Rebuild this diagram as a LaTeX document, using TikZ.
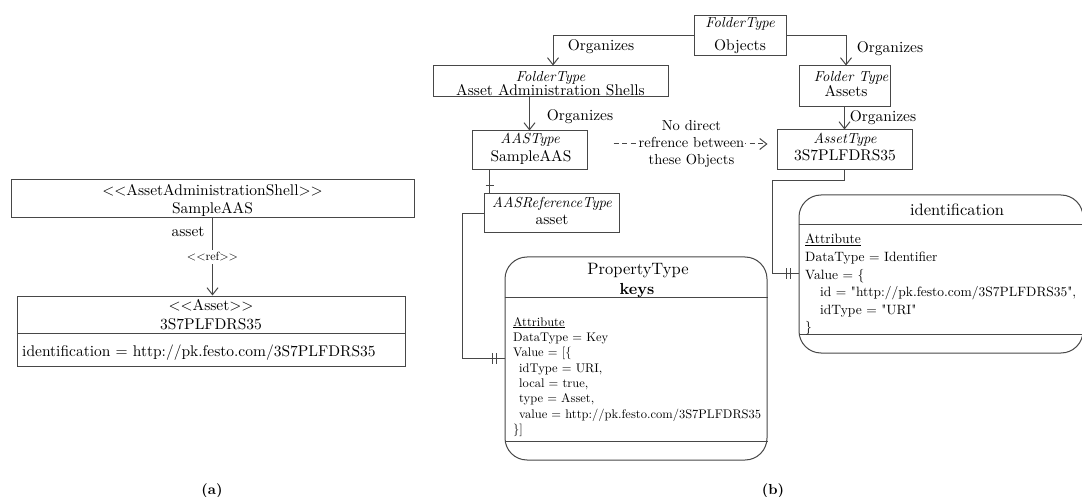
\documentclass[tikz,border=0pt]{standalone}
\usepackage{fontspec}
% Latin Modern without the TeX input mapping, so that << and " stay as typed
\setmainfont{lmroman10}[Extension=.otf, UprightFont=*-regular, ItalicFont=*-italic,
  BoldFont=*-bold, BoldItalicFont=*-bolditalic, Ligatures=TeXOff]
\usetikzlibrary{arrows.meta,calc}
\begin{document}
\begin{tikzpicture}[x=1pt,y=-1pt,
  line/.style={draw=black!72, line width=1pt},
  box/.style={line, rectangle, inner sep=0pt},
  rbox/.style={line, rectangle, rounded corners=22pt, inner sep=0pt},
  openarrow/.style={-{Straight Barb[length=7pt,width=11pt]}},
  lbl/.style={inner sep=0pt, anchor=base},
  fA/.style={font=\fontsize{15.5}{18}\selectfont},
  fB/.style={font=\fontsize{15.5}{18}\selectfont},
  fI/.style={font=\fontsize{14.5}{17}\selectfont\itshape},
  fP/.style={font=\fontsize{12.5}{15}\selectfont},
  fD/.style={font=\fontsize{13.5}{16}\selectfont},
  fH/.style={font=\fontsize{16.5}{19}\selectfont},
  fN/.style={font=\fontsize{14.5}{17}\selectfont},
  tick/.style={line, line width=0.9pt}
]
\useasboundingbox (0,0) rectangle (1082,497);
\clip (0,0) rectangle (1082,497);

% ---------------- (a) UML view ----------------
\node[box, minimum width=403pt, minimum height=38pt] (shell) at (212.5,199) {};
\node[box, minimum width=388pt, minimum height=70pt] (assetA) at (211,331) {};
\draw[line] ([yshift=-38pt]assetA.north west) -- ([yshift=-38pt]assetA.north east);

\node[lbl, fA] (shellst) at (212.5,195.5) {<<AssetAdministrationShell>>};
\node[lbl, fA] (shellnm) at (212.5,214) {SampleAAS};
\node[lbl, fA] (assetst) at (211,310) {<<Asset>>};
\node[lbl, fA] (assetnm) at (211,329) {3S7PLFDRS35};
\node[lbl, fA, anchor=base west] (assetid) at (22,356.5) {identification = http://pk.festo.com/3S7PLFDRS35};

\draw[line, openarrow] (shell.south) -- node[midway, fill=white, inner sep=2.5pt,
  font=\fontsize{12}{14}\selectfont] (reflbl) {<<ref>>} (shell.south |- assetA.north);
\node[lbl, fA] (assetrole) at (188,236.5) {asset};

\node[lbl, font=\fontsize{14.5}{17}\selectfont\bfseries] (capa) at (212,494) {(a)};

% ---------------- (b) address space view ----------------
\node[box, minimum width=92pt, minimum height=40pt] (objects) at (740,36) {};
\node[box, minimum width=235pt, minimum height=31pt] (aasfolder) at (550.5,81.5) {};
\node[box, minimum width=91pt, minimum height=41pt] (assetsfolder) at (844.5,86.5) {};
\node[box, minimum width=115pt, minimum height=39pt] (aastype) at (529.5,150.5) {};
\node[box, minimum width=135pt, minimum height=40pt] (assettype) at (844.5,150) {};
\node[box, minimum width=135pt, minimum height=39pt] (aasref) at (551.5,213.5) {};
\node[rbox, minimum width=262pt, minimum height=203pt] (prop) at (636,358.5) {};
\node[rbox, minimum width=284pt, minimum height=158pt] (ident) at (941,274) {};

% compartment lines of the two property boxes
\draw[line] ([yshift=-41pt]prop.north west) -- ([yshift=-41pt]prop.north east);
\draw[line] ([yshift=19pt]prop.south west) -- ([yshift=19pt]prop.south east);
\draw[line] ([yshift=-30pt]ident.north west) -- ([yshift=-30pt]ident.north east);
\draw[line] ([yshift=19pt]ident.south west) -- ([yshift=19pt]ident.south east);

% box texts
\node[lbl, fI] (objt) at (740,28) {FolderType};
\node[lbl, fB] (objn) at (740,50.5) {Objects};
\node[lbl, fI] (aasft) at (550.5,81.5) {FolderType};
\node[lbl, fB] (aasfn) at (550.5,95.5) {Asset Administration Shells};
\node[lbl, fI] (asfat) at (851,82) {Folder Type};
\node[lbl, fB] (asfan) at (846,96.5) {Assets};
\node[lbl, fI] (aastt) at (530,144) {AASType};
\node[lbl, fB] (aastn) at (531,161.5) {SampleAAS};
\node[lbl, fI] (astt) at (845,143.3) {AssetType};
\node[lbl, fB] (astn) at (845,160.3) {3S7PLFDRS35};
\node[lbl, fI] (areft) at (552,208) {AASReferenceType};
\node[lbl, fB] (arefn) at (552,225) {asset};

% Organizes references
\draw[line, openarrow] (objects.west) -| ([xshift=2.5pt]aasfolder.north);
\draw[line, openarrow] (objects.east) -| ([xshift=1.5pt]assetsfolder.north);
\draw[line, openarrow] (aastype.north |- aasfolder.south) -- (aastype.north);
\draw[line, openarrow] (assettype.north |- assetsfolder.south) -- (assettype.north);
\node[lbl, fB] (org1) at (601,51) {Organizes};
\node[lbl, fB] (org2) at (890,53) {Organizes};
\node[lbl, fB] (org3) at (580,120.5) {Organizes};
\node[lbl, fB] (org4) at (883,122) {Organizes};

% no direct reference between the two objects
\draw[line, dash pattern=on 5pt off 3.5pt, openarrow, shorten <=26pt, shorten >=9pt]
  ([yshift=6.5pt]aastype.east) -- node[pos=0.55, fill=white, inner sep=1pt, align=center, fN]
  (nodirect) {No direct\\refrence between\\these Objects}
  ([yshift=6pt]assettype.west);

% SampleAAS to its asset reference
\draw[line] ([xshift=18pt]aastype.south west) -- ([xshift=6pt]aasref.north west);
\draw[tick] ([xshift=2pt,yshift=8pt]aasref.north west) -- ([xshift=10pt,yshift=8pt]aasref.north west);

% asset reference to its keys property
\draw[line] (aasref.west) -- ++(-21,0) |- (prop.west);
\draw[tick] ([xshift=-12pt,yshift=5.5pt]prop.west) -- ([xshift=-12pt,yshift=-5.5pt]prop.west);
\draw[tick] ([xshift=-8pt,yshift=5.5pt]prop.west) -- ([xshift=-8pt,yshift=-5.5pt]prop.west);

% asset to its identification property
\draw[line] (assettype.south) -- ++(0,10) -- ++(-72.5,0) |- (ident.west);
\draw[tick] ([xshift=-12pt,yshift=5.5pt]ident.west) -- ([xshift=-12pt,yshift=-5.5pt]ident.west);
\draw[tick] ([xshift=-8pt,yshift=5.5pt]ident.west) -- ([xshift=-8pt,yshift=-5.5pt]ident.west);

% keys property
\node[lbl, fH] (propt) at (638,275) {PropertyType};
\node[lbl, font=\fontsize{16}{18}\selectfont\bfseries] (propn) at (637,294.3) {keys};
\node[lbl, fP, anchor=base west] (p1) at (513,326) {\underline{Attribute}};
\node[lbl, fP, anchor=base west] (p2) at (513,341) {DataType = Key};
\node[lbl, fP, anchor=base west] (p3) at (513,356) {Value = [\{};
\node[lbl, fP, anchor=base west] (p4) at (519,372) {idType = URI,};
\node[lbl, fP, anchor=base west] (p5) at (519,387) {local = true,};
\node[lbl, fP, anchor=base west] (p6) at (519,402) {type = Asset,};
\node[lbl, fP, anchor=base west] (p7) at (519,418) {value = http://pk.festo.com/3S7PLFDRS35};
\node[lbl, fP, anchor=base west] (p8) at (513,433) {\}]};

% identification property
\node[lbl, fH] (identt) at (957,215.3) {identification};
\node[lbl, fD, anchor=base west] (i1) at (805,243.5) {\underline{Attribute}};
\node[lbl, fD, anchor=base west] (i2) at (805,261.5) {DataType = Identifier};
\node[lbl, fD, anchor=base west] (i3) at (805,279.5) {Value = \{};
\node[lbl, fD, anchor=base west] (i4) at (820,296.5) {id = "http://pk.festo.com/3S7PLFDRS35",};
\node[lbl, fD, anchor=base west] (i5) at (820,314.5) {idType = "URI"};
\node[lbl, fD, anchor=base west] (i6) at (805,331.5) {\}};

\node[lbl, font=\fontsize{14.5}{17}\selectfont\bfseries] (capb) at (773,494) {(b)};
\end{tikzpicture}
\end{document}
